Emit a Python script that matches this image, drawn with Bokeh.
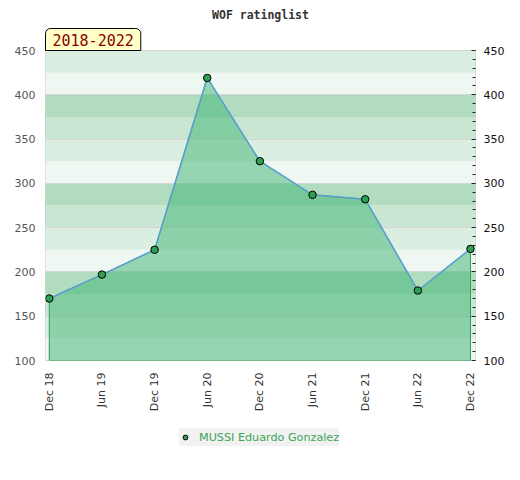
import math
from bokeh.plotting import figure
from bokeh.layouts import column
from bokeh.models import (Range1d, FixedTicker, SingleIntervalTicker, LinearAxis,
                          Legend, LegendItem, Title)
from bokeh.embed import file_html
from bokeh.resources import INLINE

# ---- data ----
periods = ["Dec 18", "Jun 19", "Dec 19", "Jun 20", "Dec 20", "Jun 21", "Dec 21", "Jun 22", "Dec 22"]
ratings = [170, 197, 225, 419, 325, 287, 282, 179, 226]
player = "MUSSI Eduardo Gonzalez"
title_text = "WOF ratinglist"
span_text = "2018-2022"
y_min, y_max = 100, 450

x = list(range(len(periods)))

p = figure(width=512, height=416, output_backend="svg", toolbar_location=None,
           x_range=Range1d(-0.072, len(periods) - 1 + 0.095),
           y_range=Range1d(y_min, y_max),
           min_border_left=45, min_border_right=37, min_border_top=50, min_border_bottom=56,
           background_fill_color="white", border_fill_color="white")
p.outline_line_color = "#cccccc"
p.outline_line_width = 1

# main title (outermost)
p.title.text = title_text
p.title.align = "center"
p.title.text_font = "DejaVu Sans Mono"
p.title.text_font_size = "11.5px"
p.title.text_font_style = "bold"
p.title.text_color = "#333333"

# span label box (closest to the frame)
span_title = Title(text=span_text, align="left", text_font="DejaVu Sans Mono",
                   text_font_size="15px", text_font_style="normal", text_color="#8b0000",
                   background_fill_color="#ffffc8", border_line_color="black",
                   border_line_width=1, padding=(7, 5), border_radius=(5, 5, 0, 0), standoff=0)
p.add_layout(span_title, "above")

# background bands (period of 100, 4 shades)
band_colors = ["#eef7f2", "#daeee2", "#c8e6d2", "#b2dcc0"]
lows = list(range(y_min, y_max, 25))
p.quad(left=-1, right=len(periods) + 1, bottom=lows, top=[v + 25 for v in lows],
       fill_color=[band_colors[(v % 100) // 25] for v in lows], line_color=None)
p.hspan(y=list(range(y_min + 50, y_max, 50)), line_color="#d6d6d6", line_width=1)

# area
xs = x + [x[-1], x[0]]
ys = ratings + [y_min, y_min]
p.patch(xs, ys, fill_color="#3cb371", fill_alpha=0.5, line_color="#2e9e4f", line_width=1)
p.line(x, ratings, line_color="#5a9fd4", line_width=1.5)
sc = p.scatter(x, ratings, size=7.5, fill_color="#2e9e55", line_color="black", line_width=1)

p.xgrid.visible = False
p.ygrid.visible = False

# x axis
xa = p.xaxis[0]
xa.ticker = FixedTicker(ticks=x)
xa.major_label_overrides = {i: lab for i, lab in enumerate(periods)}
xa.major_label_orientation = math.pi / 2
xa.major_tick_in = 0
xa.major_tick_out = 0
xa.minor_tick_line_color = None
xa.axis_line_color = None
xa.major_label_standoff = 12
xa.major_label_text_font = "DejaVu Sans"
xa.major_label_text_font_size = "11px"
xa.major_label_text_color = "#333333"

# left axis
ya = p.yaxis[0]
ya.ticker = SingleIntervalTicker(interval=50, num_minor_ticks=0)
ya.major_tick_in = 0
ya.major_tick_out = 0
ya.minor_tick_line_color = None
ya.axis_line_color = None
ya.major_label_standoff = 10
ya.major_label_text_font = "DejaVu Sans"
ya.major_label_text_font_size = "11px"
ya.major_label_text_color = "#555555"

# right axis
ra = LinearAxis(ticker=SingleIntervalTicker(interval=50, num_minor_ticks=5))
ra.major_tick_in = 4
ra.major_tick_out = 0
ra.minor_tick_in = 3
ra.minor_tick_out = 0
ra.major_tick_line_color = "#222222"
ra.minor_tick_line_color = "#222222"
ra.axis_line_color = None
ra.major_label_standoff = 8
ra.major_label_text_font = "DejaVu Sans"
ra.major_label_text_font_size = "11px"
ra.major_label_text_color = "#111111"
p.add_layout(ra, "right")

# legend strip (separate small figure below the chart)
q = figure(width=512, height=56, output_backend="svg", toolbar_location=None,
           x_range=Range1d(0, 1), y_range=Range1d(0, 1),
           x_axis_location=None, y_axis_location=None,
           min_border_left=0, min_border_right=0, min_border_top=0, min_border_bottom=0,
           background_fill_color="white", border_fill_color="white")
q.outline_line_color = None
q.xgrid.visible = False
q.ygrid.visible = False
# legend proxy: same marker style, point kept outside the visible range
proxy = q.scatter(x=[-5], y=[-5], size=7.5, fill_color="#2e9e55", line_color="black", line_width=1)
legend = Legend(items=[LegendItem(label=player, renderers=[proxy])], location=(134, 26),
                orientation="horizontal", background_fill_color="#f2f2f2", background_fill_alpha=1,
                border_line_color=None, label_text_color="#3aa757", label_text_font="DejaVu Sans",
                label_text_font_size="11.2px", glyph_width=12, glyph_height=18, padding=5,
                label_standoff=8, margin=0)
q.add_layout(legend, "center")

layout = column(p, q, spacing=0)
open("out.html", "w").write(file_html(layout, INLINE))
